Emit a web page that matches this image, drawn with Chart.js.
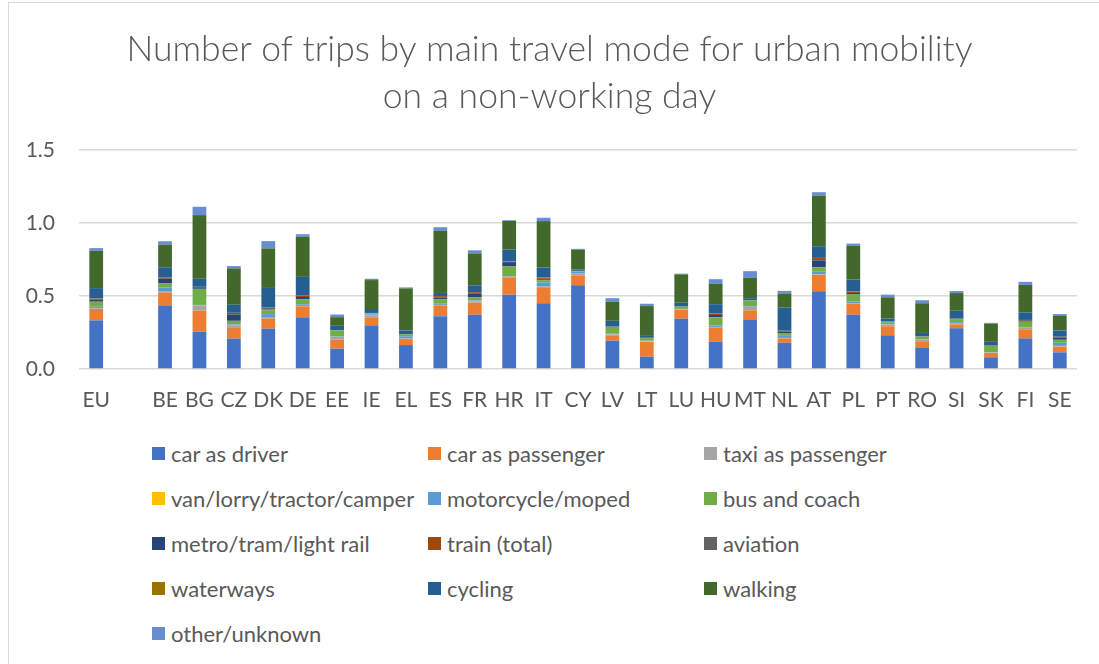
<!DOCTYPE html>
<html>
<head>
<meta charset="utf-8">
<script src="https://cdn.jsdelivr.net/npm/chart.js@4"></script>
<style>
  body { margin: 0; background: #fff; }
  #wrap { position: relative; width: 1099px; height: 664px; overflow: hidden; font-family: Lato, "Open Sans", sans-serif; }
  #frame { position: absolute; left: 8px; top: 2px; width: 1200px; height: 700px; border-left: 1px solid #d9d9d9; border-top: 1px solid #d9d9d9; }
  #box { position: absolute; left: 0; top: 0; width: 1099px; height: 420px; }
  #legend { position: absolute; left: 152px; top: 431px; display: grid; grid-template-columns: 276px 276px 276px; grid-auto-rows: 45px; }
  .item { display: flex; align-items: center; color: #595959; font-size: 22px; white-space: nowrap; }
  .item span.sw { width: 13px; height: 13px; margin-right: 6px; flex: none; }
</style>
</head>
<body>
<div id="wrap">
  <div id="frame"></div>
  <div id="box"><canvas id="barChart"></canvas></div>
  <div id="legend"></div>
</div>
<script>
const countries = ['EU', '', 'BE', 'BG', 'CZ', 'DK', 'DE', 'EE', 'IE', 'EL', 'ES', 'FR', 'HR', 'IT', 'CY', 'LV', 'LT', 'LU', 'HU', 'MT', 'NL', 'AT', 'PL', 'PT', 'RO', 'SI', 'SK', 'FI', 'SE'];
const yTicks = [0, 0.5, 1.0, 1.5];

// trips per person (EU, gap, then countries)
const carDriver    = [0.333, null, 0.436, 0.256, 0.208, 0.276, 0.354, 0.139, 0.299, 0.164, 0.361, 0.372, 0.509, 0.450, 0.573, 0.194, 0.084, 0.345, 0.187, 0.340, 0.180, 0.532, 0.372, 0.231, 0.144, 0.279, 0.080, 0.210, 0.114];
const carPassenger = [0.078, null, 0.089, 0.144, 0.078, 0.071, 0.075, 0.062, 0.055, 0.041, 0.075, 0.082, 0.119, 0.110, 0.068, 0.037, 0.103, 0.062, 0.098, 0.062, 0.030, 0.112, 0.073, 0.062, 0.046, 0.027, 0.030, 0.062, 0.039];
const taxi         = [0.003, null, 0.003, 0.034, 0.014, 0.003, 0.002, 0.018, 0.011, 0.002, 0.002, 0.009, 0.002, 0.003, 0.011, 0.006, 0.002, 0.002, 0.002, 0.023, 0.002, 0.003, 0.002, 0.012, 0.009, 0.003, 0.002, 0.010, 0.004];
const van          = [0.001, null, 0.001, 0.001, 0.001, 0.001, 0.001, 0.001, 0.001, 0.001, 0.001, 0.001, 0.001, 0.001, 0.001, 0.001, 0.003, 0.001, 0.001, 0.001, 0.001, 0.001, 0.001, 0.001, 0.001, 0.001, 0.001, 0.001, 0.001];
const motorcycle   = [0.011, null, 0.030, 0.004, 0.004, 0.025, 0.011, 0.004, 0.009, 0.016, 0.011, 0.005, 0.003, 0.028, 0.014, 0.004, 0.002, 0.002, 0.011, 0.005, 0.014, 0.018, 0.014, 0.011, 0.003, 0.011, 0.002, 0.005, 0.021];
const busCoach     = [0.035, null, 0.027, 0.110, 0.025, 0.025, 0.034, 0.039, 0.005, 0.011, 0.027, 0.023, 0.068, 0.016, 0.005, 0.046, 0.018, 0.014, 0.055, 0.037, 0.016, 0.030, 0.048, 0.005, 0.018, 0.021, 0.043, 0.034, 0.021];
const metro        = [0.013, null, 0.032, 0.011, 0.044, 0.003, 0.016, 0.001, 0.001, 0.001, 0.011, 0.023, 0.030, 0.007, 0.000, 0.001, 0.000, 0.001, 0.016, 0.001, 0.014, 0.048, 0.011, 0.002, 0.001, 0.002, 0.001, 0.003, 0.016];
const train        = [0.007, null, 0.007, 0.002, 0.010, 0.003, 0.011, 0.001, 0.002, 0.001, 0.011, 0.011, 0.002, 0.007, 0.000, 0.001, 0.001, 0.001, 0.009, 0.000, 0.003, 0.016, 0.009, 0.001, 0.001, 0.001, 0.001, 0.002, 0.003];
const aviation     = [0.001, null, 0.001, 0.001, 0.001, 0.013, 0.001, 0.001, 0.001, 0.001, 0.001, 0.001, 0.001, 0.006, 0.000, 0.001, 0.001, 0.001, 0.001, 0.001, 0.001, 0.001, 0.001, 0.001, 0.001, 0.001, 0.001, 0.008, 0.001];
const waterways    = [0.001, null, 0.000, 0.000, 0.000, 0.001, 0.000, 0.000, 0.000, 0.001, 0.000, 0.000, 0.001, 0.001, 0.000, 0.000, 0.000, 0.000, 0.000, 0.001, 0.001, 0.000, 0.000, 0.001, 0.000, 0.000, 0.000, 0.001, 0.001];
const cycling      = [0.071, null, 0.071, 0.055, 0.055, 0.140, 0.126, 0.030, 0.027, 0.025, 0.021, 0.046, 0.082, 0.066, 0.009, 0.039, 0.018, 0.025, 0.064, 0.014, 0.158, 0.080, 0.082, 0.018, 0.023, 0.053, 0.025, 0.050, 0.043];
const walking      = [0.256, null, 0.155, 0.436, 0.249, 0.265, 0.274, 0.059, 0.198, 0.288, 0.425, 0.219, 0.196, 0.318, 0.137, 0.130, 0.199, 0.194, 0.139, 0.139, 0.094, 0.347, 0.230, 0.146, 0.203, 0.121, 0.123, 0.190, 0.103];
const otherUnknown = [0.018, null, 0.023, 0.057, 0.016, 0.050, 0.018, 0.018, 0.009, 0.007, 0.025, 0.021, 0.005, 0.023, 0.005, 0.025, 0.016, 0.005, 0.032, 0.046, 0.021, 0.023, 0.016, 0.018, 0.021, 0.014, 0.007, 0.021, 0.009];

const series = [
  ['car as driver', carDriver, '#4472C4'],
  ['car as passenger', carPassenger, '#ED7D31'],
  ['taxi as passenger', taxi, '#A5A5A5'],
  ['van/lorry/tractor/camper', van, '#FFC000'],
  ['motorcycle/moped', motorcycle, '#5B9BD5'],
  ['bus and coach', busCoach, '#70AD47'],
  ['metro/tram/light rail', metro, '#264478'],
  ['train (total)', train, '#9E480E'],
  ['aviation', aviation, '#636363'],
  ['waterways', waterways, '#997300'],
  ['cycling', cycling, '#255E91'],
  ['walking', walking, '#43682B'],
  ['other/unknown', otherUnknown, '#698ED0']
];

const fontFam = 'Lato, "Open Sans", sans-serif';
const grey = '#595959';

const ctx = document.getElementById('barChart').getContext('2d');
const barChart = new Chart(ctx, {
  type: 'bar',
  data: {
    labels: countries,
    datasets: series.map(s => ({
      label: s[0],
      data: s[1],
      backgroundColor: s[2],
      borderWidth: 0,
      barPercentage: 0.4,
      categoryPercentage: 1.0
    }))
  },
  options: {
    responsive: true,
    maintainAspectRatio: false,
    animation: false,
    layout: { padding: { left: 22, right: 22, top: 0, bottom: 0 } },
    plugins: {
      legend: { display: false },
      tooltip: { enabled: false },
      title: {
        display: true,
        text: ['Number of trips by main travel mode for urban mobility', 'on a non-working day'],
        color: grey,
        font: { family: fontFam, size: 35.5, weight: '300', lineHeight: 47 / 35.5 },
        padding: { top: 26, bottom: 30 }
      }
    },
    scales: {
      x: {
        stacked: true,
        grid: { display: false, drawTicks: false },
        border: { display: false },
        ticks: { color: grey, font: { family: fontFam, size: 21 }, padding: 19, autoSkip: false, maxRotation: 0 },
        afterFit: scale => { scale.height = 51; }
      },
      y: {
        stacked: true,
        min: 0,
        max: 1.5,
        afterBuildTicks: scale => { scale.ticks = yTicks.map(v => ({ value: v })); },
        grid: { color: '#d9d9d9', lineWidth: 1.5, drawTicks: false },
        border: { display: false },
        ticks: { color: grey, font: { family: fontFam, size: 21 }, padding: 24, callback: v => v.toFixed(1) },
        afterFit: scale => { scale.width = 57; }
      }
    }
  }
});

// legend in three columns like the original
const legendBox = document.getElementById('legend');
barChart.data.datasets.forEach(ds => {
  const item = document.createElement('div');
  item.className = 'item';
  item.innerHTML = '<span class="sw" style="background:' + ds.backgroundColor + '"></span>' + ds.label;
  legendBox.appendChild(item);
});
</script>
</body>
</html>
